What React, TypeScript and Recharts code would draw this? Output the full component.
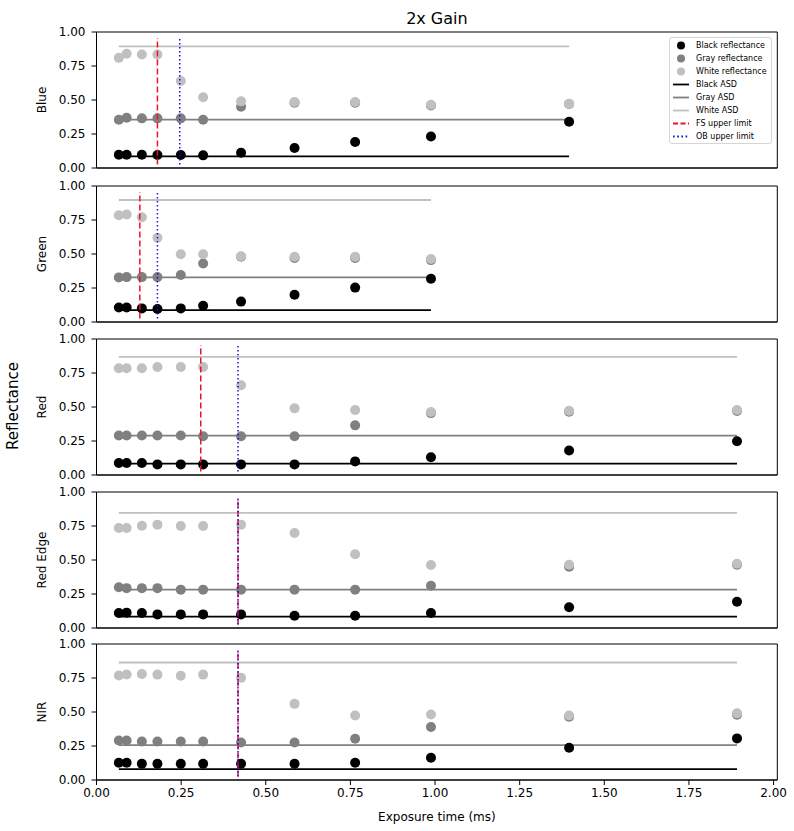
import React from 'react'
import { ComposedChart, Scatter, XAxis, YAxis, ReferenceArea } from 'recharts'

// exposure times (ms) shared by every band
const exposureTimes = [0.066, 0.089, 0.134, 0.18, 0.249, 0.315, 0.427, 0.585, 0.764, 0.988, 1.396, 1.892]
const xTicks = [0, 0.25, 0.5, 0.75, 1, 1.25, 1.5, 1.75, 2]
const yTicks = [0, 0.25, 0.5, 0.75, 1]
const X_MAX = 2.011
const limitSpan = [0.025, 0.955]

const blueBlack = [0.098, 0.098, 0.098, 0.095, 0.095, 0.093, 0.112, 0.147, 0.191, 0.232, 0.34]
const blueGray = [0.355, 0.37, 0.365, 0.365, 0.365, 0.355, 0.45, 0.48, 0.48, 0.46, 0.47]
const blueWhite = [0.81, 0.84, 0.835, 0.835, 0.64, 0.52, 0.49, 0.485, 0.485, 0.465, 0.473]
const blueAsd = [0.085, 0.355, 0.895]
const blueLimits = [0.18, 0.246]

const greenBlack = [0.106, 0.106, 0.1, 0.096, 0.1, 0.12, 0.15, 0.2, 0.253, 0.318]
const greenGray = [0.328, 0.33, 0.33, 0.33, 0.346, 0.43, 0.48, 0.47, 0.47, 0.455]
const greenWhite = [0.785, 0.79, 0.77, 0.62, 0.498, 0.498, 0.483, 0.48, 0.48, 0.463]
const greenAsd = [0.088, 0.328, 0.897]
const greenLimits = [0.128, 0.18]

const redBlack = [0.088, 0.088, 0.088, 0.078, 0.078, 0.078, 0.078, 0.078, 0.1, 0.13, 0.18, 0.248]
const redGray = [0.29, 0.29, 0.29, 0.29, 0.29, 0.285, 0.285, 0.285, 0.365, 0.455, 0.465, 0.47]
const redWhite = [0.785, 0.785, 0.785, 0.794, 0.794, 0.794, 0.66, 0.49, 0.478, 0.463, 0.473, 0.478]
const redAsd = [0.083, 0.29, 0.868]
const redLimits = [0.308, 0.418]

const redEdgeBlack = [0.11, 0.113, 0.11, 0.1, 0.1, 0.1, 0.1, 0.09, 0.09, 0.11, 0.152, 0.193]
const redEdgeGray = [0.3, 0.293, 0.293, 0.293, 0.282, 0.282, 0.282, 0.282, 0.282, 0.311, 0.45, 0.465]
const redEdgeWhite = [0.735, 0.735, 0.752, 0.76, 0.75, 0.75, 0.76, 0.699, 0.542, 0.463, 0.465, 0.473]
const redEdgeAsd = [0.083, 0.282, 0.846]
const redEdgeLimits = [0.418, 0.418]

const nirBlack = [0.127, 0.127, 0.12, 0.12, 0.12, 0.12, 0.12, 0.12, 0.127, 0.163, 0.237, 0.306]
const nirGray = [0.29, 0.29, 0.283, 0.283, 0.283, 0.283, 0.276, 0.276, 0.303, 0.39, 0.465, 0.48]
const nirWhite = [0.768, 0.776, 0.78, 0.775, 0.766, 0.775, 0.751, 0.56, 0.474, 0.481, 0.474, 0.49]
const nirAsd = [0.08, 0.257, 0.864]
const nirLimits = [0.418, 0.418]

const bands = [
  { name: 'Blue', black: blueBlack, gray: blueGray, white: blueWhite, asd: blueAsd, limits: blueLimits },
  { name: 'Green', black: greenBlack, gray: greenGray, white: greenWhite, asd: greenAsd, limits: greenLimits },
  { name: 'Red', black: redBlack, gray: redGray, white: redWhite, asd: redAsd, limits: redLimits },
  { name: 'Red Edge', black: redEdgeBlack, gray: redEdgeGray, white: redEdgeWhite, asd: redEdgeAsd, limits: redEdgeLimits },
  { name: 'NIR', black: nirBlack, gray: nirGray, white: nirWhite, asd: nirAsd, limits: nirLimits },
]

const COLORS = { black: '#000000', gray: '#808080', white: '#c0c0c0', fs: '#f0102a', ob: '#1010e0' }
const FONT = '"DejaVu Sans", sans-serif'

const PLOT_LEFT = 96.5
const PLOT_RIGHT = 777.3
const PLOT_HEIGHT = 136
const PANEL_TOPS = [32, 185.5, 338.5, 491.5, 644]

const toPoints = (values: number[]) => values.map((y, i) => ({ x: exposureTimes[i], y }))
const hLine = (y: number, n: number) => [{ x: exposureTimes[0], y }, { x: exposureTimes[n - 1], y }]
const vLine = (x: number) => [{ x, y: limitSpan[0] }, { x, y: limitSpan[1] }]

const dot = (fill: string) => (props: any) => <circle cx={props.cx} cy={props.cy} r={5} fill={fill} />
const noDot = () => <g />

function BandPanel({ band, last }: { band: typeof bands[number]; last: boolean }) {
  const xAxisHeight = last ? 45 : 14
  const n = band.black.length
  return (
    <ComposedChart
      width={794}
      height={8 + PLOT_HEIGHT + xAxisHeight}
      margin={{ top: 8, right: 794 - PLOT_RIGHT, bottom: 0, left: 0 }}
      style={{ overflow: 'visible' }}
    >
      <XAxis
        type="number"
        dataKey="x"
        domain={[0, X_MAX]}
        ticks={xTicks}
        interval={0}
        allowDataOverflow
        height={xAxisHeight}
        tick={last ? { fill: '#000', fontSize: 12, fontFamily: FONT } : false}
        tickFormatter={(v: number) => v.toFixed(2)}
        tickSize={5}
        tickMargin={3}
        tickLine={{ stroke: '#000' }}
        axisLine={{ stroke: '#000' }}
        label={last ? { value: 'Exposure time (ms)', position: 'insideBottom', offset: 4, fill: '#000', fontSize: 12, fontFamily: FONT } : undefined}
      />
      <YAxis
        type="number"
        dataKey="y"
        domain={[0, 1]}
        ticks={yTicks}
        interval={0}
        allowDataOverflow
        width={PLOT_LEFT}
        tick={{ fill: '#000', fontSize: 12, fontFamily: FONT }}
        tickFormatter={(v: number) => v.toFixed(2)}
        tickSize={5}
        tickMargin={6}
        tickLine={{ stroke: '#000' }}
        axisLine={{ stroke: '#000' }}
      />
      <ReferenceArea x1={0} x2={X_MAX} y1={0} y2={1} fill="none" stroke="#000" strokeWidth={1} />

      <Scatter data={hLine(band.asd[0], n)} stroke={COLORS.black} line={{ stroke: COLORS.black, strokeWidth: 1.8 }} shape={noDot} isAnimationActive={false} />
      <Scatter data={hLine(band.asd[1], n)} stroke={COLORS.gray} line={{ stroke: COLORS.gray, strokeWidth: 1.8 }} shape={noDot} isAnimationActive={false} />
      <Scatter data={hLine(band.asd[2], n)} stroke={COLORS.white} line={{ stroke: COLORS.white, strokeWidth: 1.8 }} shape={noDot} isAnimationActive={false} />

      <Scatter data={toPoints(band.black)} shape={dot(COLORS.black)} isAnimationActive={false} />
      <Scatter data={toPoints(band.gray)} shape={dot(COLORS.gray)} isAnimationActive={false} />
      <Scatter data={toPoints(band.white)} shape={dot(COLORS.white)} isAnimationActive={false} />

      <Scatter data={vLine(band.limits[0])} stroke={COLORS.fs} line={{ stroke: COLORS.fs, strokeWidth: 1.5, strokeDasharray: '6 3' }} shape={noDot} isAnimationActive={false} />
      <Scatter data={vLine(band.limits[1])} stroke={COLORS.ob} line={{ stroke: COLORS.ob, strokeWidth: 1.5, strokeDasharray: '1.5 2.5' }} shape={noDot} isAnimationActive={false} />
    </ComposedChart>
  )
}

const legendItems = [
  { label: 'Black reflectance', kind: 'dot', color: COLORS.black },
  { label: 'Gray reflectance', kind: 'dot', color: COLORS.gray },
  { label: 'White reflectance', kind: 'dot', color: COLORS.white },
  { label: 'Black ASD', kind: 'line', color: COLORS.black },
  { label: 'Gray ASD', kind: 'line', color: COLORS.gray },
  { label: 'White ASD', kind: 'line', color: COLORS.white },
  { label: 'FS upper limit', kind: 'dash', color: COLORS.fs },
  { label: 'OB upper limit', kind: 'dot-line', color: COLORS.ob },
]

function LegendBox() {
  return (
    <div
      style={{
        position: 'absolute',
        left: 669,
        top: 37,
        width: 103,
        height: 107,
        border: '1px solid #d5d5d5',
        borderRadius: 3,
        background: 'rgba(255,255,255,0.85)',
        boxSizing: 'border-box',
        paddingTop: 0.5,
      }}
    >
      {legendItems.map((item) => (
        <div key={item.label} style={{ display: 'flex', alignItems: 'center', height: 13.1 }}>
          <svg width={26} height={13} style={{ flex: 'none' }}>
            {item.kind === 'dot' && <circle cx={11} cy={6.5} r={4} fill={item.color} />}
            {item.kind === 'line' && <line x1={3} x2={19} y1={6.5} y2={6.5} stroke={item.color} strokeWidth={1.8} />}
            {item.kind === 'dash' && <line x1={3} x2={19} y1={6.5} y2={6.5} stroke={item.color} strokeWidth={1.8} strokeDasharray="5 2.5" />}
            {item.kind === 'dot-line' && <line x1={3} x2={19} y1={6.5} y2={6.5} stroke={item.color} strokeWidth={1.8} strokeDasharray="1.6 2.6" />}
          </svg>
          <span style={{ fontSize: 8, color: '#000', whiteSpace: 'nowrap' }}>{item.label}</span>
        </div>
      ))}
    </div>
  )
}

const rotated = (x: number, y: number, size: number): React.CSSProperties => ({
  position: 'absolute',
  left: x,
  top: y,
  transform: 'translate(-50%, -50%) rotate(-90deg)',
  fontSize: size,
  whiteSpace: 'nowrap',
  color: '#000',
})

export default function App() {
  return (
    <div style={{ position: 'absolute', left: 0, top: 0, width: 794, height: 831, background: '#fff', fontFamily: FONT, overflow: 'hidden' }}>
      <div style={{ position: 'absolute', left: (PLOT_LEFT + PLOT_RIGHT) / 2, top: 18, transform: 'translate(-50%, -50%)', fontSize: 16, whiteSpace: 'nowrap' }}>
        2x Gain
      </div>
      <div style={rotated(13, 406, 15)}>Reflectance</div>
      {bands.map((band, i) => (
        <React.Fragment key={band.name}>
          <div style={{ position: 'absolute', left: 0, top: PANEL_TOPS[i] - 8 }}>
            <BandPanel band={band} last={i === bands.length - 1} />
          </div>
          <div style={rotated(42, PANEL_TOPS[i] + PLOT_HEIGHT / 2, 12)}>{band.name}</div>
        </React.Fragment>
      ))}
      <LegendBox />
    </div>
  )
}
